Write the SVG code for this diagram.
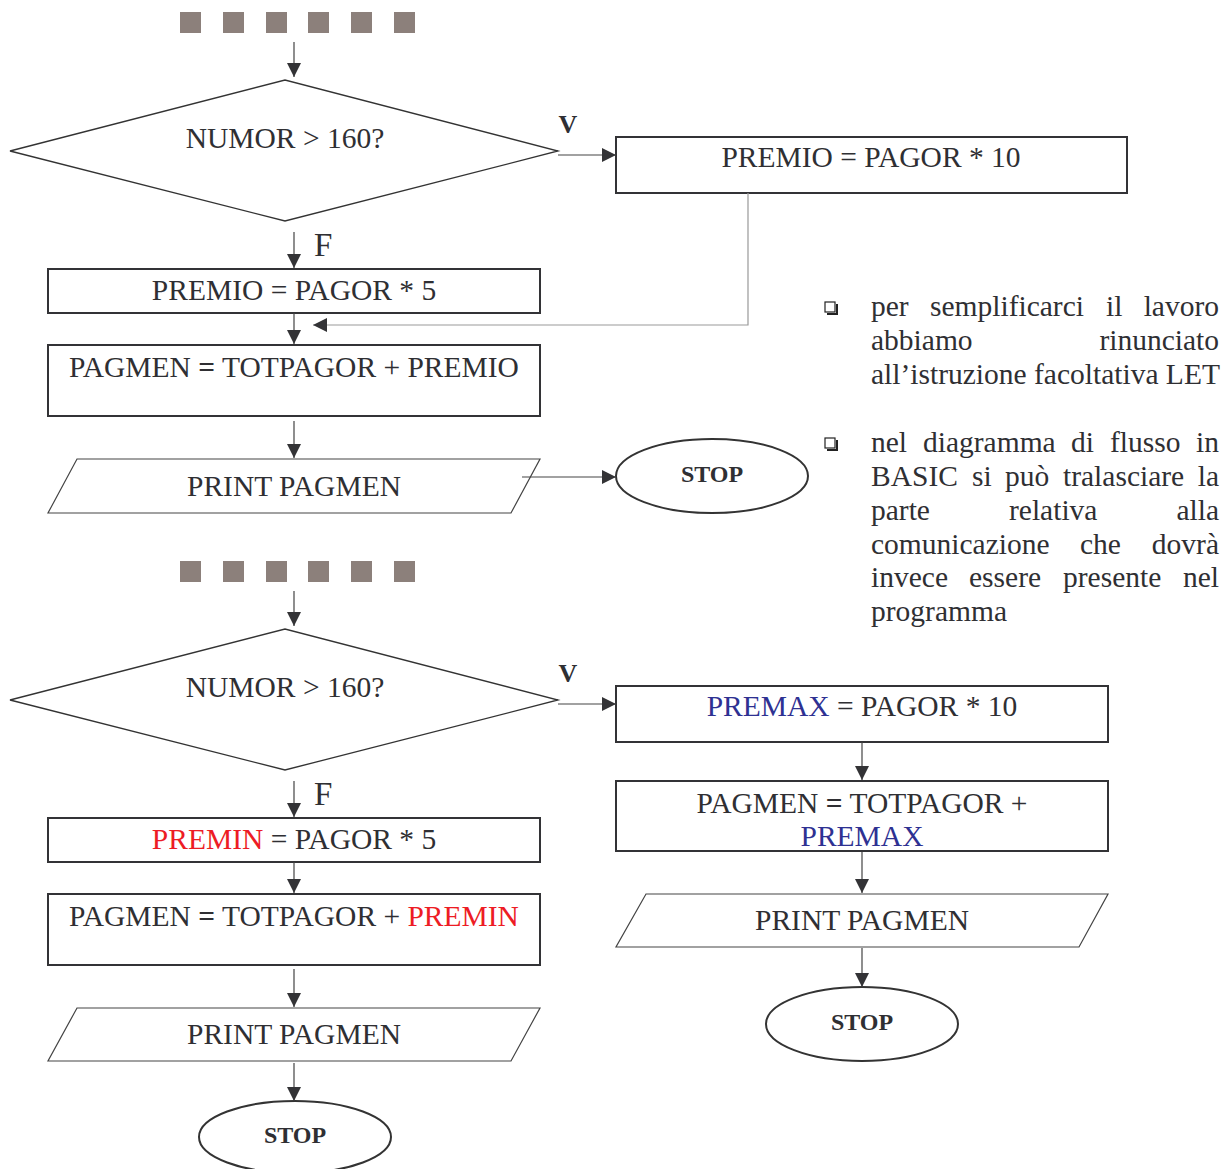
<svg xmlns="http://www.w3.org/2000/svg" width="1232" height="1169" viewBox="0 0 1232 1169">
  <style>
    .t { font-family: "Liberation Serif", "Times New Roman", serif; font-size: 29.5px; fill: #2f2f33; }
    .c { text-anchor: middle; }
    .e { text-anchor: end; }
    .stop { font-family: "Liberation Serif", "Times New Roman", serif; font-size: 24px; font-weight: bold; fill: #2f2f33; text-anchor: middle; }
    .lbl { font-family: "Liberation Serif", "Times New Roman", serif; fill: #2f2f33; }
    .box { fill: #fff; stroke: #333336; stroke-width: 2; }
    .io { fill: #fff; stroke: #444; stroke-width: 1.2; }
    .dia { fill: #fff; stroke: #333; stroke-width: 1.3; }
    .term { fill: #fff; stroke: #333; stroke-width: 2; }
    .sq { fill: #8c807b; }
    .ln { stroke: #444; stroke-width: 1.2; fill: none; }
    .lt { stroke: #999; stroke-width: 1.2; fill: none; }
    .red { fill: #ed1c24; }
    .blue { fill: #2e3192; }
    .b { font-weight: bold; }
    .bul { fill: #fff; stroke: #222; stroke-width: 1.2; }
    .bsh { stroke: #222; stroke-width: 2; fill: none; }
  </style>
  <defs>
    <marker id="ah" markerWidth="14" markerHeight="14" viewBox="0 0 14 14" refX="14" refY="7" orient="auto" markerUnits="userSpaceOnUse">
      <path d="M0,0 L14,7 L0,14 Z" fill="#333336"/>
    </marker>
  </defs>

  <!-- continuation marks -->
  <g id="dots-top">
    <rect class="sq" x="180" y="12" width="21" height="21"/>
    <rect class="sq" x="223" y="12" width="21" height="21"/>
    <rect class="sq" x="266" y="12" width="21" height="21"/>
    <rect class="sq" x="308" y="12" width="21" height="21"/>
    <rect class="sq" x="351" y="12" width="21" height="21"/>
    <rect class="sq" x="394" y="12" width="21" height="21"/>
  </g>
  <g id="dots-bottom">
    <rect class="sq" x="180" y="561" width="21" height="21"/>
    <rect class="sq" x="223" y="561" width="21" height="21"/>
    <rect class="sq" x="266" y="561" width="21" height="21"/>
    <rect class="sq" x="308" y="561" width="21" height="21"/>
    <rect class="sq" x="351" y="561" width="21" height="21"/>
    <rect class="sq" x="394" y="561" width="21" height="21"/>
  </g>

  <!-- first flowchart -->
  <g id="dec1">
    <polygon class="dia" points="10,151 285,80 558,151 285,221"/>
    <text class="t c" x="285" y="148">NUMOR &gt; 160?</text>
  </g>
  <g id="premio10">
    <rect class="box" x="616" y="137" width="511" height="56"/>
    <text class="t c" x="871" y="167">PREMIO = PAGOR * 10</text>
  </g>
  <g id="premio5">
    <rect class="box" x="48" y="269" width="492" height="44"/>
    <text class="t c" x="294" y="300">PREMIO = PAGOR * 5</text>
  </g>
  <g id="pagmen1">
    <rect class="box" x="48" y="345" width="492" height="71"/>
    <text class="t c" x="294" y="377">PAGMEN <tspan class="b">=</tspan> TOTPAGOR + PREMIO</text>
  </g>
  <g id="print1">
    <polygon class="io" points="77,459 540,459 511,513 48,513"/>
    <text class="t c" x="294" y="496">PRINT PAGMEN</text>
  </g>
  <g id="stop1">
    <ellipse class="term" cx="712" cy="476" rx="96" ry="37"/>
    <text class="stop" x="712" y="482">STOP</text>
  </g>

  <!-- second flowchart -->
  <g id="dec2">
    <polygon class="dia" points="10,700 285,629 558,700 285,770"/>
    <text class="t c" x="285" y="697">NUMOR &gt; 160?</text>
  </g>
  <g id="premax">
    <rect class="box" x="616" y="686" width="492" height="56"/>
    <text class="t c" x="862" y="716"><tspan class="blue">PREMAX</tspan> = PAGOR * 10</text>
  </g>
  <g id="pagmen-max">
    <rect class="box" x="616" y="781" width="492" height="70"/>
    <text class="t c" x="862" y="813">PAGMEN <tspan class="b">=</tspan> TOTPAGOR +</text>
    <text class="t c blue" x="862" y="846">PREMAX</text>
  </g>
  <g id="print-max">
    <polygon class="io" points="646,894 1108,894 1079,947 616,947"/>
    <text class="t c" x="862" y="930">PRINT PAGMEN</text>
  </g>
  <g id="stop-max">
    <ellipse class="term" cx="862" cy="1024" rx="96" ry="37"/>
    <text class="stop" x="862" y="1030">STOP</text>
  </g>
  <g id="premin">
    <rect class="box" x="48" y="818" width="492" height="44"/>
    <text class="t c" x="294" y="849"><tspan class="red">PREMIN</tspan> = PAGOR * 5</text>
  </g>
  <g id="pagmen-min">
    <rect class="box" x="48" y="894" width="492" height="71"/>
    <text class="t c" x="294" y="926">PAGMEN <tspan class="b">=</tspan> TOTPAGOR + <tspan class="red">PREMIN</tspan></text>
  </g>
  <g id="print-min">
    <polygon class="io" points="77,1008 540,1008 511,1061 48,1061"/>
    <text class="t c" x="294" y="1044">PRINT PAGMEN</text>
  </g>
  <g id="stop-min">
    <ellipse class="term" cx="295" cy="1137" rx="96" ry="36"/>
    <text class="stop" x="295" y="1143">STOP</text>
  </g>

  <!-- connectors -->
  <g id="connectors">
    <line class="ln" x1="294" y1="42" x2="294" y2="77" marker-end="url(#ah)"/>
    <line class="ln" x1="558" y1="155" x2="616" y2="155" marker-end="url(#ah)"/>
    <line class="ln" x1="294" y1="232" x2="294" y2="268" marker-end="url(#ah)"/>
    <polyline class="lt" points="748,193 748,325 313,325" marker-end="url(#ah)"/>
    <line class="ln" x1="294" y1="313" x2="294" y2="344" marker-end="url(#ah)"/>
    <line class="ln" x1="294" y1="421" x2="294" y2="458" marker-end="url(#ah)"/>
    <line class="ln" x1="522" y1="477" x2="616" y2="477" marker-end="url(#ah)"/>

    <line class="ln" x1="294" y1="591" x2="294" y2="626" marker-end="url(#ah)"/>
    <line class="ln" x1="558" y1="704" x2="616" y2="704" marker-end="url(#ah)"/>
    <line class="ln" x1="862" y1="742" x2="862" y2="780" marker-end="url(#ah)"/>
    <line class="ln" x1="862" y1="852" x2="862" y2="893" marker-end="url(#ah)"/>
    <line class="ln" x1="862" y1="948" x2="862" y2="987" marker-end="url(#ah)"/>
    <line class="ln" x1="294" y1="781" x2="294" y2="817" marker-end="url(#ah)"/>
    <line class="ln" x1="294" y1="862" x2="294" y2="893" marker-end="url(#ah)"/>
    <line class="ln" x1="294" y1="969" x2="294" y2="1007" marker-end="url(#ah)"/>
    <line class="ln" x1="294" y1="1063" x2="294" y2="1101" marker-end="url(#ah)"/>
  </g>

  <!-- branch labels -->
  <g id="labels">
    <text class="lbl b" x="568" y="133" font-size="26" text-anchor="middle">V</text>
    <text class="lbl" x="314" y="256" font-size="33">F</text>
    <text class="lbl b" x="568" y="682" font-size="26" text-anchor="middle">V</text>
    <text class="lbl" x="314" y="805" font-size="33">F</text>
  </g>

  <!-- notes, justified word by word -->
  <g id="notes">
    <rect class="bul" x="825" y="302" width="10" height="10"/>
    <path class="bsh" d="M837,304 V314 H827"/>
    <text class="t" x="871" y="316">per</text>
    <text class="t" x="930" y="316">semplificarci</text>
    <text class="t" x="1106" y="316">il</text>
    <text class="t e" x="1219" y="316">lavoro</text>
    <text class="t" x="871" y="350">abbiamo</text>
    <text class="t e" x="1219" y="350">rinunciato</text>
    <text class="t" x="871" y="384">all’istruzione facoltativa LET</text>

    <rect class="bul" x="825" y="438" width="10" height="10"/>
    <path class="bsh" d="M837,440 V450 H827"/>
    <text class="t" x="871" y="452">nel</text>
    <text class="t" x="923" y="452">diagramma</text>
    <text class="t" x="1071" y="452">di</text>
    <text class="t" x="1110" y="452">flusso</text>
    <text class="t e" x="1219" y="452">in</text>
    <text class="t" x="871" y="486">BASIC</text>
    <text class="t" x="972" y="486">si</text>
    <text class="t" x="1005" y="486">può</text>
    <text class="t" x="1063" y="486">tralasciare</text>
    <text class="t e" x="1219" y="486">la</text>
    <text class="t" x="871" y="520">parte</text>
    <text class="t" x="1009" y="520">relativa</text>
    <text class="t e" x="1219" y="520">alla</text>
    <text class="t" x="871" y="554">comunicazione</text>
    <text class="t" x="1080" y="554">che</text>
    <text class="t e" x="1219" y="554">dovrà</text>
    <text class="t" x="871" y="587">invece</text>
    <text class="t" x="969" y="587">essere</text>
    <text class="t" x="1063" y="587">presente</text>
    <text class="t e" x="1219" y="587">nel</text>
    <text class="t" x="871" y="621">programma</text>
  </g>
</svg>
